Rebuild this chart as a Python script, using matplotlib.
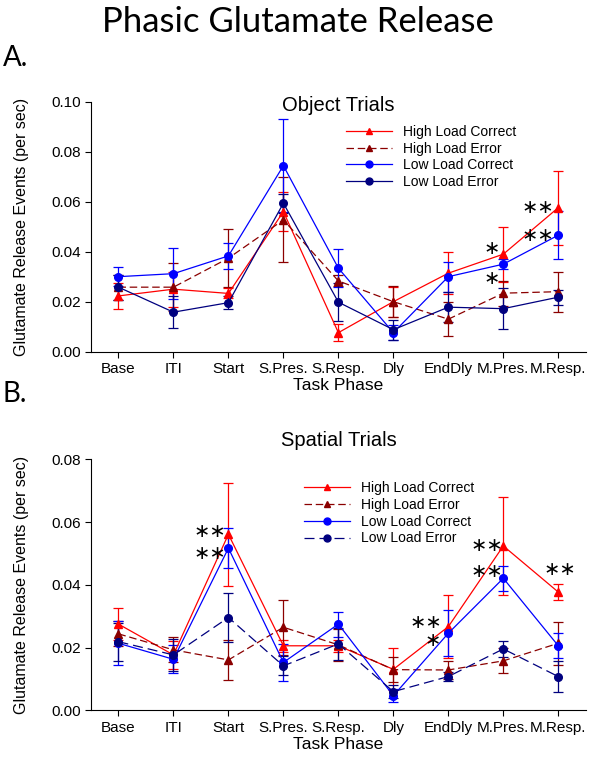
import matplotlib
matplotlib.use("Agg")
import matplotlib.pyplot as plt
from matplotlib.lines import Line2D
from matplotlib.ticker import MultipleLocator, FormatStrFormatter
import numpy as np

plt.rcParams['font.family'] = ['Liberation Sans', 'DejaVu Sans']

phases = ["Base", "ITI", "Start", "S.Pres.", "S.Resp.", "Dly", "EndDly", "M.Pres.", "M.Resp."]
series_names = ["High Load Correct", "High Load Error", "Low Load Correct", "Low Load Error"]

# object trials: means and error (+/-)
obj_hlc = [0.0223, 0.0250, 0.0233, 0.0560, 0.0076, 0.0200, 0.0314, 0.0390, 0.0576]
obj_hlc_err = [0.0052, 0.0070, 0.0020, 0.0078, 0.0035, 0.0060, 0.0085, 0.0110, 0.0148]
obj_hle = [0.0258, 0.0258, 0.0374, 0.0527, 0.0283, 0.0200, 0.0130, 0.0234, 0.0240]
obj_hle_err = [0.0050, 0.0095, 0.0117, 0.0170, 0.0022, 0.0063, 0.0068, 0.0050, 0.0080]
obj_llc = [0.0300, 0.0312, 0.0383, 0.0744, 0.0334, 0.0076, 0.0300, 0.0350, 0.0466]
obj_llc_err = [0.0039, 0.0103, 0.0053, 0.0187, 0.0077, 0.0030, 0.0060, 0.0020, 0.0095]
obj_lle = [0.0258, 0.0158, 0.0196, 0.0594, 0.0198, 0.0088, 0.0178, 0.0172, 0.0218]
obj_lle_err = [0.0050, 0.0063, 0.0025, 0.0038, 0.0075, 0.0040, 0.0060, 0.0082, 0.0030]

# spatial trials
sp_hlc = [0.0275, 0.0177, 0.0561, 0.0206, 0.0206, 0.0131, 0.0267, 0.0524, 0.0377]
sp_hlc_err = [0.0052, 0.0045, 0.0165, 0.0020, 0.0020, 0.0067, 0.0100, 0.0155, 0.0025]
sp_hle = [0.0244, 0.0193, 0.0161, 0.0265, 0.0209, 0.0130, 0.0129, 0.0158, 0.0214]
sp_hle_err = [0.0040, 0.0040, 0.0064, 0.0087, 0.0050, 0.0040, 0.0030, 0.0040, 0.0069]
sp_llc = [0.0214, 0.0163, 0.0517, 0.0153, 0.0275, 0.0047, 0.0246, 0.0421, 0.0206]
sp_llc_err = [0.0070, 0.0045, 0.0063, 0.0058, 0.0040, 0.0020, 0.0074, 0.0040, 0.0040]
sp_lle = [0.0219, 0.0177, 0.0296, 0.0142, 0.0212, 0.0060, 0.0108, 0.0196, 0.0108]
sp_lle_err = [0.0060, 0.0050, 0.0077, 0.0030, 0.0050, 0.0020, 0.0015, 0.0025, 0.0050]

colors = ["#ff0000", "#8b0000", "#0000ff", "#00007f"]
markers = ["^", "^", "o", "o"]
dash_hle = (0, (6, 3))
dash_lle = (0, (8, 4))


def draw_panel(ax, data, styles, title, title_y, ymax, stars, legend_anchor):
    x = np.arange(len(phases))
    handles = []
    for (m, e), c, mk, ls, name in zip(data, colors, markers, styles, series_names):
        ax.errorbar(x, m, yerr=e, color=c, marker=mk, markersize=5.5, linestyle=ls,
                    linewidth=0.9, elinewidth=0.9, capsize=3.6, capthick=0.9, ecolor=c)
        handles.append(Line2D([], [], color=c, marker=mk, markersize=5, linestyle=ls,
                              linewidth=0.9, label=name))
    ax.set_xlim(-0.5, len(phases) - 0.5)
    ax.set_ylim(0, ymax)
    ax.set_xticks(x)
    ax.set_xticklabels(phases, fontsize=11)
    ax.yaxis.set_major_locator(MultipleLocator(0.02))
    ax.yaxis.set_major_formatter(FormatStrFormatter('%.2f'))
    ax.tick_params(axis='both', direction='out', length=4, width=0.8, labelsize=11)
    ax.spines['top'].set_visible(False)
    ax.spines['right'].set_visible(False)
    ax.text(0.5, title_y, title, transform=ax.transAxes, ha='center', va='center',
            fontsize=14.5)
    ax.set_xlabel("Task Phase", fontsize=12.5, labelpad=1.5)
    ax.set_ylabel("Glutamate Release Events (per sec)", fontsize=11.5)
    ax.yaxis.set_label_coords(-0.125, 0.5)
    ax.legend(handles=handles, loc='upper left', bbox_to_anchor=legend_anchor,
              frameon=False, fontsize=10, handlelength=3.3, handletextpad=0.8,
              labelspacing=0.2, borderaxespad=0)
    for idx, val, txt, dx, dy in stars:
        ax.annotate(txt, (idx, val), xytext=(dx, dy), textcoords='offset points',
                    ha='center', va='center', fontsize=14, family='DejaVu Sans')


fig = plt.figure(figsize=(5.95, 7.68), dpi=100)
fig.text(0.5, 0.972, "Phasic Glutamate Release", ha='center', va='center',
         fontsize=25, family='Lato')
fig.text(0.005, 0.924, "A.", ha='left', va='center', fontsize=20, family='Lato')
fig.text(0.005, 0.487, "B.", ha='left', va='center', fontsize=20, family='Lato')

ax1 = fig.add_axes([0.1529, 0.5421, 0.8316, 0.3255])
ax2 = fig.add_axes([0.1529, 0.0749, 0.8316, 0.3271])

obj_data = [(obj_hlc, obj_hlc_err), (obj_hle, obj_hle_err),
            (obj_llc, obj_llc_err), (obj_lle, obj_lle_err)]
sp_data = [(sp_hlc, sp_hlc_err), (sp_hle, sp_hle_err),
           (sp_llc, sp_llc_err), (sp_lle, sp_lle_err)]

obj_stars = [(8, obj_hlc[8], "∗∗", -15, 0), (8, obj_llc[8], "∗∗", -15, 0),
             (7, obj_hlc[7], "∗", -8, 4), (7, obj_llc[7], "∗", -8, -10)]
sp_stars = [(2, sp_hlc[2], "∗∗", -13, 2), (2, sp_llc[2], "∗∗", -13, -4),
            (7, sp_hlc[7], "∗∗", -12, 0), (7, sp_llc[7], "∗∗", -12, 5),
            (8, sp_hlc[8], "∗∗", 1, 16),
            (6, sp_hlc[6], "∗∗", -16, 3), (6, sp_hlc[6], "∗", -11, -10)]

draw_panel(ax1, obj_data, ['-', dash_hle, '-', '-'], "Object Trials", 0.985, 0.10,
           obj_stars, (0.505, 0.93))
draw_panel(ax2, sp_data, ['-', dash_hle, '-', dash_lle], "Spatial Trials", 1.076, 0.08,
           sp_stars, (0.42, 0.935))

fig.savefig("out.png", dpi=100)
